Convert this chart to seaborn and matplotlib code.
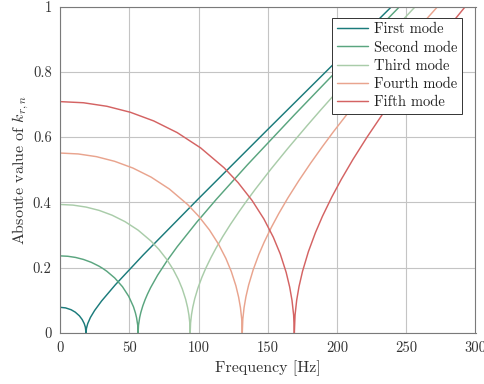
import matplotlib
matplotlib.use("Agg")
import matplotlib.pyplot as plt
import seaborn as sns
import pandas as pd

# ---- data ----
mode_names = ["First mode", "Second mode", "Third mode", "Fourth mode", "Fifth mode"]
colors = ["#1b7b7b", "#5aa57f", "#a9cca9", "#e9a48e", "#d46363"]

f1 = [0, 4, 8, 11, 14, 16, 17.5, 18.3, 18.8, 19.1, 20, 22, 25, 30, 40, 60, 100, 150, 200, 239.5]
k1 = [0.0787, 0.0769, 0.0713, 0.0639, 0.0526, 0.0413, 0.0288, 0.0180, 0.0, 0.0141, 0.0286,
      0.0479, 0.0690, 0.0979, 0.1479, 0.2387, 0.4114, 0.6234, 0.8340, 1.000]

f2 = [0, 5.64, 11.28, 16.92, 22.56, 28.2, 31.02, 33.84, 39.48, 45.12, 49.63, 53.02, 54.43, 55.27,
      56.12, 56.4, 56.68, 57.53, 58.37, 59.78, 61.48, 63.17, 65.42, 70.5, 77.55, 84.6, 98.7,
      112.8, 135.36, 169.2, 197.4, 245.3]
k2 = [0.2362, 0.2350, 0.2314, 0.2253, 0.2165, 0.2046, 0.1973, 0.1890, 0.1687, 0.1417, 0.1122,
      0.0806, 0.0619, 0.0470, 0.0236, 0.0, 0.0236, 0.0475, 0.0630, 0.0830, 0.1024, 0.1191,
      0.1389, 0.1772, 0.2229, 0.2641, 0.3392, 0.4091, 0.5153, 0.6680, 0.7922, 1.000]

f3 = [0, 9.4, 18.8, 28.2, 37.6, 47.0, 56.4, 65.8, 71.44, 77.08, 81.78, 85.54, 88.36, 90.71,
      92.12, 93.06, 93.72, 94.0, 94.28, 94.94, 95.88, 97.29, 99.64, 102.46, 105.28, 109.04,
      112.8, 117.5, 123.14, 129.25, 135.36, 141.0, 152.28, 164.5, 178.6, 188.0, 206.8, 225.6,
      253.8, 282.0]
k3 = [0.3937, 0.3917, 0.3857, 0.3756, 0.3608, 0.3409, 0.3150, 0.2812, 0.2559, 0.2253, 0.1941,
      0.1632, 0.1343, 0.1032, 0.0783, 0.0555, 0.0305, 0.0, 0.0305, 0.0558, 0.0791, 0.1051,
      0.1384, 0.1707, 0.1986, 0.2314, 0.2611, 0.2953, 0.3332, 0.3715, 0.4079, 0.4402, 0.5018,
      0.5654, 0.6360, 0.6819, 0.7715, 0.8589, 0.9874, 1.1135]

f4 = [0, 13.16, 26.32, 39.48, 52.64, 65.8, 78.96, 92.12, 100.02, 107.91, 114.49, 119.76, 123.7,
      127.0, 128.97, 130.28, 131.2, 131.6, 132.0, 132.92, 134.23, 136.21, 139.5, 143.44, 147.39,
      152.66, 157.92, 164.5, 172.4, 180.95, 189.5, 197.4, 213.19, 230.3, 250.04, 263.2, 289.5]
k4 = [0.5512, 0.5484, 0.5401, 0.5258, 0.5052, 0.4774, 0.4410, 0.3936, 0.3582, 0.3155, 0.2718,
      0.2285, 0.1881, 0.1446, 0.1097, 0.0778, 0.0427, 0.0, 0.0427, 0.0781, 0.1108, 0.1471,
      0.1938, 0.2391, 0.2780, 0.3240, 0.3656, 0.4134, 0.4664, 0.5202, 0.5711, 0.6163, 0.7025,
      0.7916, 0.8905, 0.9547, 1.0801]

f5 = [0, 16.92, 33.84, 50.76, 67.68, 84.6, 101.52, 118.44, 128.59, 138.74, 147.2, 153.97, 159.05,
      163.28, 165.82, 167.51, 168.69, 169.2, 169.71, 170.89, 172.58, 175.12, 179.35, 184.43,
      189.5, 196.27, 203.04, 211.5, 221.65, 232.65, 243.65, 253.8, 274.1, 296.1]
k5 = [0.7087, 0.7052, 0.6944, 0.6761, 0.6495, 0.6138, 0.5670, 0.5061, 0.4606, 0.4056, 0.3494,
      0.2938, 0.2418, 0.1859, 0.1410, 0.1000, 0.0549, 0.0, 0.0549, 0.1005, 0.1424, 0.1891,
      0.2492, 0.3074, 0.3575, 0.4166, 0.4701, 0.5315, 0.5997, 0.6688, 0.7343, 0.7924, 0.9033,
      1.0178]

x_ticks = [0, 50, 100, 150, 200, 250, 300]
y_ticks = [0, 0.2, 0.4, 0.6, 0.8, 1.0]
y_tick_labels = ["0", "0.2", "0.4", "0.6", "0.8", "1"]

# ---- build long-form table ----
frames = []
for name, fs, ks in zip(mode_names, [f1, f2, f3, f4, f5], [k1, k2, k3, k4, k5]):
    frames.append(pd.DataFrame({"Frequency": fs, "k": ks, "mode": name}))
df = pd.concat(frames, ignore_index=True)

sns.set_style("white")
plt.rcParams["font.family"] = ["cmr10", "DejaVu Serif"]
plt.rcParams["mathtext.fontset"] = "cm"
plt.rcParams["axes.formatter.use_mathtext"] = True

fig = plt.figure(figsize=(4.85, 3.84), dpi=100)
ax = fig.add_axes([60 / 485, 51 / 384, 415.5 / 485, 326.5 / 384])

sns.lineplot(data=df, x="Frequency", y="k", hue="mode", hue_order=mode_names,
             palette=colors, sort=False, estimator=None, linewidth=1.05, ax=ax)

ax.set_xlim(0, 300)
ax.set_ylim(0, 1)
ax.set_xticks(x_ticks)
ax.set_xticklabels([str(t) for t in x_ticks])
ax.set_yticks(y_ticks)
ax.set_yticklabels(y_tick_labels)
ax.grid(True, color="#c4c4c4", linewidth=0.8)
ax.set_axisbelow(True)
for s in ax.spines.values():
    s.set_color("#7a7a7a")
    s.set_linewidth(0.8)
ax.tick_params(direction="in", length=3, width=0.6, color="#7a7a7a",
               labelsize=10.5, labelcolor="#333333", pad=6)

ax.set_xlabel("Frequency [Hz]", fontsize=11.5, color="#333333", labelpad=4)
ax.set_ylabel(r"Absoute value of $k_{r,n}$", fontsize=11.5, color="#333333", labelpad=1)

handles, labels = ax.get_legend_handles_labels()
leg = ax.legend(handles, labels, loc="upper right", bbox_to_anchor=(0.968, 0.966), fontsize=10.5,
                frameon=True, fancybox=False, framealpha=1, edgecolor="#333333",
                handlelength=2.1, handletextpad=0.4, borderpad=0.35, labelspacing=0.3,
                borderaxespad=0)
leg.get_frame().set_linewidth(0.7)
for t in leg.get_texts():
    t.set_color("#222222")

fig.savefig("out.png", dpi=100)
